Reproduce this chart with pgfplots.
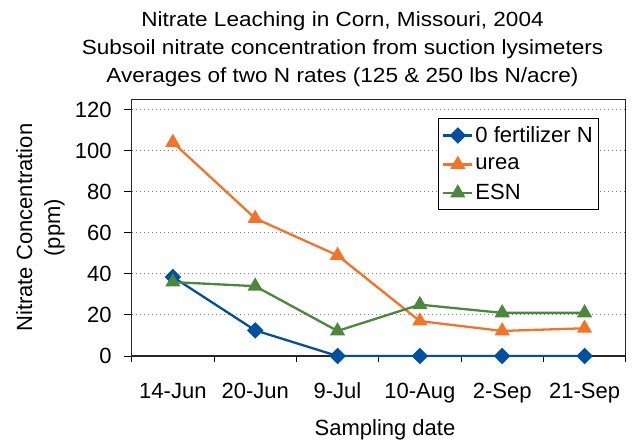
\documentclass[border=0pt]{standalone}
\usepackage{fontspec}
\setmainfont{Liberation Sans}
\newfontfamily\titlefont[FakeStretch=1.1]{Liberation Sans}
\usepackage{pgfplots}
\pgfplotsset{compat=1.18}
\definecolor{cblue}{RGB}{0,80,160}
\definecolor{corange}{RGB}{245,115,40}
\definecolor{cgreen}{RGB}{75,135,60}
\begin{document}
\begin{tikzpicture}
\begin{axis}[
  scale only axis, width=494pt, height=256.7pt,
  xmin=-0.5, xmax=5.5, ymin=0, ymax=125,
  xtick={0,...,5},
  xticklabels={14-Jun,20-Jun,9-Jul,10-Aug,2-Sep,21-Sep},
  minor xtick={-0.5,0.5,...,5.5},
  major x tick style={draw=none},
  ytick={0,20,...,120},
  tick align=outside,
  xtick pos=bottom, ytick pos=left,
  major tick length=8pt, minor tick length=6pt,
  tick style={line width=1pt, black},
  axis line style={line width=1.3pt, black!85},
  ymajorgrids,
  major grid style={gray, line width=0.9pt, dash pattern=on 1pt off 3pt},
  tick label style={font=\fontsize{22}{26}\selectfont},
  /pgf/number format/assume math mode=true,
  xticklabel style={anchor=base, inner sep=0pt, yshift=-34pt},
  yticklabel style={anchor=east, inner sep=0pt, xshift=-12pt},
  legend style={at={(0.6194,0.926)}, anchor=north west, draw=black, line width=1pt,
    font=\fontsize{22}{26}\selectfont, inner xsep=4pt, inner ysep=6pt, row sep=9.5pt},
  legend cell align=left,
  legend image code/.code={\draw[mark repeat=2,mark phase=2] plot coordinates {(0pt,0pt)(14.5pt,0pt)(29pt,0pt)};},
  every axis plot/.append style={line width=2.3pt},
]
\addplot[cblue, mark=square*, mark size=4.7pt, mark options={rotate=45, solid}] coordinates {
(0,38.5) (1,12.5) (2,0) (3,0) (4,0) (5,0)};
\addlegendentry{0 fertilizer N}
\addplot[corange, mark=triangle*, mark size=6.5pt, mark options={solid}] coordinates {
(0,104) (1,67) (2,49) (3,17) (4,12.2) (5,13.5)};
\addlegendentry{urea}
\addplot[cgreen, mark=triangle*, mark size=6.5pt, mark options={solid}] coordinates {
(0,36) (1,34) (2,12.2) (3,25) (4,21) (5,21)};
\addlegendentry{ESN}
\end{axis}
\begin{scope}[every node/.style={inner sep=0pt, anchor=base}]
\node[font=\titlefont\fontsize{20.5}{24}\selectfont] at (210.8pt,329.3pt) {Nitrate Leaching in Corn, Missouri, 2004};
\node[font=\titlefont\fontsize{20.5}{24}\selectfont] at (210.8pt,301.5pt) {Subsoil nitrate concentration from suction lysimeters};
\node[font=\titlefont\fontsize{20.5}{24}\selectfont] at (210.8pt,273.7pt) {Averages of two N rates (125 \& 250 lbs N/acre)};
\node[font=\fontsize{22}{26}\selectfont] at (253.3pt,-79pt) {Sampling date};
\end{scope}
\node[rotate=90, anchor=center, align=center, inner sep=0pt, font=\fontsize{22}{28}\selectfont] at (-91.2pt,128.35pt) {Nitrate Concentration\\(ppm)};
\pgfresetboundingbox
\path[use as bounding box] (-131.7pt,-84pt) rectangle (503.3pt,356pt);
\end{tikzpicture}
\end{document}
